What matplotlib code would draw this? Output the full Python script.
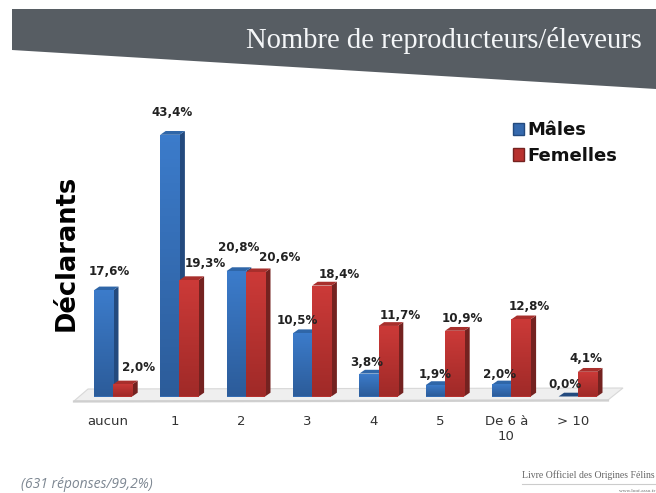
import numpy as np
import matplotlib
matplotlib.use("Agg")
import matplotlib.pyplot as plt
from matplotlib.colors import LinearSegmentedColormap
from matplotlib.patches import Polygon, Patch
from matplotlib.lines import Line2D
from matplotlib.transforms import ScaledTranslation

categories = ["aucun", "1", "2", "3", "4", "5", "De 6 à\n10", "> 10"]
males = [17.6, 43.4, 20.8, 10.5, 3.8, 1.9, 2.0, 0.0]
femelles = [2.0, 19.3, 20.6, 18.4, 11.7, 10.9, 12.8, 4.1]
male_labels = ["17,6%", "43,4%", "20,8%", "10,5%", "3,8%", "1,9%", "2,0%", "0,0%"]
femelle_labels = ["2,0%", "19,3%", "20,6%", "18,4%", "11,7%", "10,9%", "12,8%", "4,1%"]

# label offsets from bar top-centre, in pixels
male_off = [(5.5, 19), (2, 22), (2, 24), (-5, 13), (-2, 11), (0, 11), (-2.5, 10), (-3, 12)]
fem_off = [(16, 17), (16, 17), (24.5, 15), (18, 11.5), (12, 10), (8, 12), (8, 13), (-1.5, 13)]

W, H = 656, 493
fig = plt.figure(figsize=(W / 100, H / 100), dpi=100, facecolor="white")


def fx(x):
    return x / W


def fy(y):
    return 1 - y / H


# axes geometry in pixels
PX_LEFT, PX_RIGHT, PX_TOP, PX_BASE = 60, 640, 100, 396.5
GROUP_PX, VALUE_PX, FIRST_PX = 66.4, 6.03, 113
BAR_PX, DEPTH_X, DEPTH_Y = 19.2, 5.5, 3.8

ax = fig.add_axes([fx(PX_LEFT), fy(PX_BASE), (PX_RIGHT - PX_LEFT) / W, (PX_BASE - PX_TOP) / H])
ax.set_zorder(1)
ax.set_xlim((PX_LEFT - FIRST_PX) / GROUP_PX, (PX_RIGHT - FIRST_PX) / GROUP_PX)
ax.set_ylim(0, (PX_BASE - PX_TOP) / VALUE_PX)
ax.patch.set_alpha(0)
for s in ax.spines.values():
    s.set_visible(False)
ax.yaxis.set_visible(False)

dx = DEPTH_X / GROUP_PX
dy = DEPTH_Y / VALUE_PX
w = BAR_PX / GROUP_PX
xs = np.arange(len(categories))

# floor
xl, xr = ax.get_xlim()
fl = [(74, 401), (88, 389), (623, 388), (608, 400)]
fig.add_artist(Polygon([(fx(a), fy(b)) for a, b in fl], closed=True, transform=fig.transFigure,
                       facecolor="#efefef", edgecolor="#d8d8d8", lw=0.8, zorder=0.5))
fig.add_artist(Line2D([fx(74), fx(608)], [fy(401.5), fy(400.5)], color="#cfcfcf", lw=1.6, zorder=0.6))

blue = LinearSegmentedColormap.from_list("b", ["#2c5c9a", "#3c7ccb"])
red = LinearSegmentedColormap.from_list("r", ["#a02a28", "#cc3a38"])
grad = np.linspace(0, 1, 64)[::-1].reshape(-1, 1)


def bar3d(x, v, cmap, side, top, z):
    if v <= 0.01:
        ax.add_patch(Polygon([(x, 0), (x + dx, dy), (x + w + dx, dy), (x + w, 0)], closed=True,
                             facecolor=side, edgecolor="none", zorder=z))
        return
    ax.add_patch(Polygon([(x + w, 0), (x + w + dx, dy), (x + w + dx, v + dy), (x + w, v)], closed=True,
                         facecolor=side, edgecolor="none", zorder=z))
    ax.add_patch(Polygon([(x, v), (x + dx, v + dy), (x + w + dx, v + dy), (x + w, v)], closed=True,
                         facecolor=top, edgecolor="none", zorder=z))
    b = ax.bar(x, v, width=w, align="edge", color=cmap(0.5), zorder=z)[0]
    im = ax.imshow(grad, extent=(x, x + w, 0, v), cmap=cmap, aspect="auto", vmin=0, vmax=1, zorder=z + 0.01)
    im.set_clip_path(b)


for i in xs:
    bar3d(i - w, males[i], blue, "#234a7e", "#2f66a8", 2 + i)
    bar3d(i, femelles[i], red, "#742220", "#a82f2c", 2.5 + i)

ax.set_xlim(xl, xr)
ax.set_ylim(0, (PX_BASE - PX_TOP) / VALUE_PX)

lab = dict(ha="center", va="center", fontsize=8.6, fontweight="bold", color="#222222",
           family="DejaVu Sans", zorder=40, textcoords="offset pixels", annotation_clip=False)
for i in xs:
    ax.annotate(male_labels[i], (i - w / 2, males[i]), xytext=male_off[i], **lab)
    ax.annotate(femelle_labels[i], (i + w / 2, femelles[i]), xytext=fem_off[i], **lab)

# x ticks
ax.set_xticks(xs)
ax.set_xticklabels(categories, fontsize=9.5, color="#333333", family="DejaVu Sans", linespacing=1.25)
ax.tick_params(axis="x", length=0, pad=13)
shift = ScaledTranslation(-5 / 100, 0, fig.dpi_scale_trans)
for t in ax.get_xticklabels():
    t.set_transform(t.get_transform() + shift)

fig.text(fx(67), fy(252.5), "Déclarants", rotation=90, ha="center", va="center", fontsize=18.5,
         fontweight="bold", color="black", family="DejaVu Sans")

# legend
handles = [Patch(facecolor="#3569ad", edgecolor="#234a7e", label="Mâles"),
           Patch(facecolor="#b8322f", edgecolor="#742220", label="Femelles")]
fig.legend(handles=handles, loc="upper left", bbox_to_anchor=(fx(497), fy(105)), frameon=False,
           prop=dict(family="DejaVu Sans", weight="bold", size=13), handlelength=0.62, handleheight=0.7,
           handletextpad=0.18, labelspacing=0.42, labelcolor="#111111")

# banner
bn = [(12, 9), (656, 9), (656, 89), (12, 50)]
fig.add_artist(Polygon([(fx(a), fy(b)) for a, b in bn], closed=True, transform=fig.transFigure,
                       facecolor="#575d63", edgecolor="none", zorder=0.2))
fig.text(fx(642), fy(41), "Nombre de reproducteurs/éleveurs", ha="right", va="center",
         fontsize=20.6, color="#f4f6f8", family="Liberation Serif", zorder=5)

# footer
fig.text(fx(21), fy(484), "(631 réponses/99,2%)", ha="left", va="center", fontsize=10, style="italic",
         color="#7d8792", family="Open Sans")
fig.text(fx(655), fy(475), "Livre Officiel des Origines Félins", ha="right", va="center", fontsize=7,
         color="#666666", family="Liberation Serif")
fig.add_artist(Line2D([fx(522), fx(656)], [fy(484), fy(484)], color="#cccccc", lw=0.8))
fig.text(fx(655), fy(490.5), "www.loof.asso.fr", ha="right", va="center", fontsize=3.8,
         color="#666666", family="Liberation Serif")

fig.savefig("out.png", dpi=100)
